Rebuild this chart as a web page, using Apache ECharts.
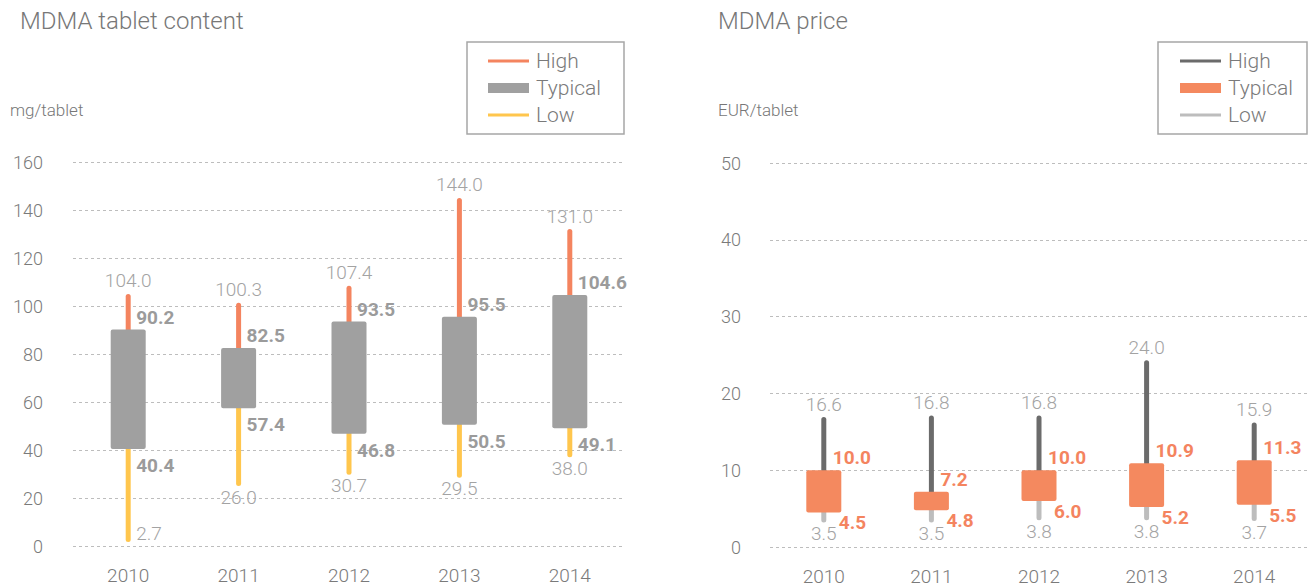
<!DOCTYPE html>
<html>
<head>
<meta charset="utf-8">
<script src="https://cdn.jsdelivr.net/npm/echarts@6/dist/echarts.min.js"></script>
<style>
  html, body { margin: 0; padding: 0; background: #ffffff; }
  #wrap { position: relative; width: 1308px; height: 588px; }
  .panel { position: absolute; top: 0; width: 654px; height: 588px; }
</style>
</head>
<body>
<div id="wrap">
  <div id="content" class="panel" style="left:0"></div>
  <div id="price" class="panel" style="left:654px"></div>
</div>
<script>
// Years shown on both charts
const years = ['2010', '2011', '2012', '2013', '2014'];

// MDMA content per tablet (mg)
const contentHigh    = [104.0, 100.3, 107.4, 144.0, 131.0];
const contentTypHigh = [90.2, 82.5, 93.5, 95.5, 104.6];
const contentTypLow  = [40.4, 57.4, 46.8, 50.5, 49.1];
const contentLow     = [2.7, 26.0, 30.7, 29.5, 38.0];
const contentTicks   = [0, 20, 40, 60, 80, 100, 120, 140, 160];

// MDMA retail price per tablet (EUR)
const priceHigh    = [16.6, 16.8, 16.8, 24.0, 15.9];
const priceTypHigh = [10.0, 7.2, 10.0, 10.9, 11.3];
const priceTypLow  = [4.5, 4.8, 6.0, 5.2, 5.5];
const priceLow     = [3.5, 3.5, 3.8, 3.8, 3.7];
const priceTicks   = [0, 10, 20, 30, 40, 50];

const FONT = 'Roboto, "Noto Sans", sans-serif';
const LABEL_GREY = '#a3a3a3';
const AXIS_GREY = '#7a7a7a';
const NUM_SIZE = 19;

function fmt(v) { return Number(v).toFixed(1); }

function buildOption(cfg) {
  const ticks = cfg.ticks;
  const boxWidth = 35;

  // thin range line between two values, labelled at one end
  function rangeLine(color, labelEnd) {
    return function (params, api) {
      const i = api.value(0);
      const pA = api.coord([i, api.value(1)]);
      const pB = api.coord([i, api.value(2)]);
      const baseY = api.coord([i, ticks[0]])[1];
      const children = [{
        type: 'line',
        shape: { x1: pA[0], y1: pA[1], x2: pB[0], y2: pB[1] },
        style: { stroke: color, lineWidth: 5, lineCap: 'round' }
      }];
      const txt = { fill: LABEL_GREY, fontSize: NUM_SIZE, fontFamily: FONT, fontWeight: 300 };
      if (labelEnd === 'top') {
        children.push({ type: 'text', x: pB[0], y: pB[1] - 6,
          style: Object.assign({ text: fmt(api.value(2)), align: 'center', verticalAlign: 'bottom' }, txt) });
      } else {
        // bottom label; moves beside the line when it would fall under the axis
        if (pA[1] + 24 > baseY) {
          children.push({ type: 'text', x: pA[0] + 8, y: pA[1] - 6,
            style: Object.assign({ text: fmt(api.value(1)), align: 'left', verticalAlign: 'middle' }, txt) });
        } else {
          children.push({ type: 'text', x: pA[0], y: pA[1] + 4,
            style: Object.assign({ text: fmt(api.value(1)), align: 'center', verticalAlign: 'top' }, txt) });
        }
      }
      return { type: 'group', children: children };
    };
  }

  // the typical range box with its two bold values
  function typicalBox(params, api) {
    const i = api.value(0);
    const pLo = api.coord([i, api.value(1)]);
    const pHi = api.coord([i, api.value(2)]);
    const txt = { fill: cfg.boldColor, fontSize: NUM_SIZE, fontFamily: FONT, fontWeight: 'bold' };
    return {
      type: 'group',
      children: [
        { type: 'rect',
          shape: { x: pHi[0] - boxWidth / 2, y: pHi[1], width: boxWidth, height: pLo[1] - pHi[1], r: 2 },
          style: { fill: cfg.typColor } },
        { type: 'text', x: pHi[0] + cfg.hiLabelDx, y: pHi[1] - cfg.hiLabelGap,
          style: Object.assign({ text: fmt(api.value(2)), align: 'left', verticalAlign: 'bottom' }, txt) },
        { type: 'text', x: pLo[0] + cfg.loLabelDx, y: pLo[1] + cfg.loLabelGap,
          style: Object.assign({ text: fmt(api.value(1)), align: 'left', verticalAlign: 'top' }, txt) }
      ]
    };
  }

  return {
    animation: false,
    textStyle: { fontFamily: FONT },
    title: [
      { text: cfg.title, left: cfg.titleLeft, top: 9, padding: 0,
        textStyle: { fontSize: 24, fontWeight: 300, color: '#777777', fontFamily: FONT } },
      { text: cfg.unit, left: cfg.unitLeft, top: 101, padding: 0,
        textStyle: { fontSize: 17, fontWeight: 300, color: '#777777', fontFamily: FONT } }
    ],
    graphic: [{
      type: 'rect',
      shape: { x: cfg.legendBox[0], y: cfg.legendBox[1], width: cfg.legendBox[2], height: cfg.legendBox[3] },
      style: { fill: 'none', stroke: '#a6a6a6', lineWidth: 1.5 }
    }],
    legend: {
      orient: 'vertical',
      left: cfg.legendLeft,
      top: 50,
      padding: 0,
      itemWidth: 41,
      itemHeight: 12,
      itemGap: 5,
      symbolKeepAspect: true,
      selectedMode: false,
      textStyle: { fontSize: 21, fontWeight: 300, color: '#7a7a7a', fontFamily: FONT, lineHeight: 22, padding: [0, 0, 0, 2] },
      data: [
        { name: 'High', icon: 'path://M0,0H41V3H0Z' },
        { name: 'Typical', icon: 'path://M0,0H41V10H0Z' },
        { name: 'Low', icon: 'path://M0,0H41V3H0Z' }
      ]
    },
    grid: { left: cfg.gridLeft, width: cfg.gridWidth, top: cfg.gridTop, height: 384 },
    xAxis: {
      type: 'category',
      data: years,
      axisLine: { show: false },
      axisTick: { show: false },
      axisLabel: { fontSize: NUM_SIZE, fontWeight: 300, color: AXIS_GREY, margin: 20, fontFamily: FONT }
    },
    yAxis: {
      type: 'value',
      min: ticks[0],
      max: ticks[ticks.length - 1],
      interval: ticks[1] - ticks[0],
      axisLine: { show: false },
      axisTick: { show: false },
      axisLabel: { fontSize: 18, fontWeight: 300, color: AXIS_GREY, margin: cfg.yLabelMargin, fontFamily: FONT },
      splitLine: { lineStyle: { color: '#bdbdbd', type: [3, 3], width: 1 } }
    },
    series: [
      { name: 'High', type: 'custom', itemStyle: { color: cfg.highColor },
        renderItem: rangeLine(cfg.highColor, 'top'),
        encode: { x: 0, y: [1, 2] },
        data: years.map((y, i) => [i, cfg.typHigh[i], cfg.high[i]]) },
      { name: 'Low', type: 'custom', itemStyle: { color: cfg.lowColor },
        renderItem: rangeLine(cfg.lowColor, 'bottom'),
        encode: { x: 0, y: [1, 2] },
        data: years.map((y, i) => [i, cfg.low[i], cfg.typLow[i]]) },
      { name: 'Typical', type: 'custom', itemStyle: { color: cfg.typColor },
        renderItem: typicalBox,
        encode: { x: 0, y: [1, 2] },
        data: years.map((y, i) => [i, cfg.typLow[i], cfg.typHigh[i]]) }
    ]
  };
}

const contentChart = echarts.init(document.getElementById('content'), null, { renderer: 'svg' });
contentChart.setOption(buildOption({
  title: 'MDMA tablet content', titleLeft: 20,
  unit: 'mg/tablet', unitLeft: 10,
  ticks: contentTicks,
  high: contentHigh, typHigh: contentTypHigh, typLow: contentTypLow, low: contentLow,
  highColor: '#f4845f', typColor: '#a0a0a0', lowColor: '#ffc64d', boldColor: '#9b9b9b',
  hiLabelGap: 3, loLabelGap: 7, hiLabelDx: 8, loLabelDx: 8,
  gridLeft: 73, gridWidth: 552, gridTop: 162, yLabelMargin: 30,
  legendLeft: 488, legendBox: [467, 42, 157, 92]
}));

const priceChart = echarts.init(document.getElementById('price'), null, { renderer: 'svg' });
priceChart.setOption(buildOption({
  title: 'MDMA price', titleLeft: 64,
  unit: 'EUR/tablet', unitLeft: 64,
  ticks: priceTicks,
  high: priceHigh, typHigh: priceTypHigh, typLow: priceTypLow, low: priceLow,
  highColor: '#6b6b6b', typColor: '#f4895f', lowColor: '#bdbdbd', boldColor: '#f4845f',
  hiLabelGap: 3, loLabelGap: 1, hiLabelDx: 9, loLabelDx: 15,
  gridLeft: 116, gridWidth: 538, gridTop: 163, yLabelMargin: 29,
  legendLeft: 526, legendBox: [504, 42, 149, 92]
}));
</script>
</body>
</html>
